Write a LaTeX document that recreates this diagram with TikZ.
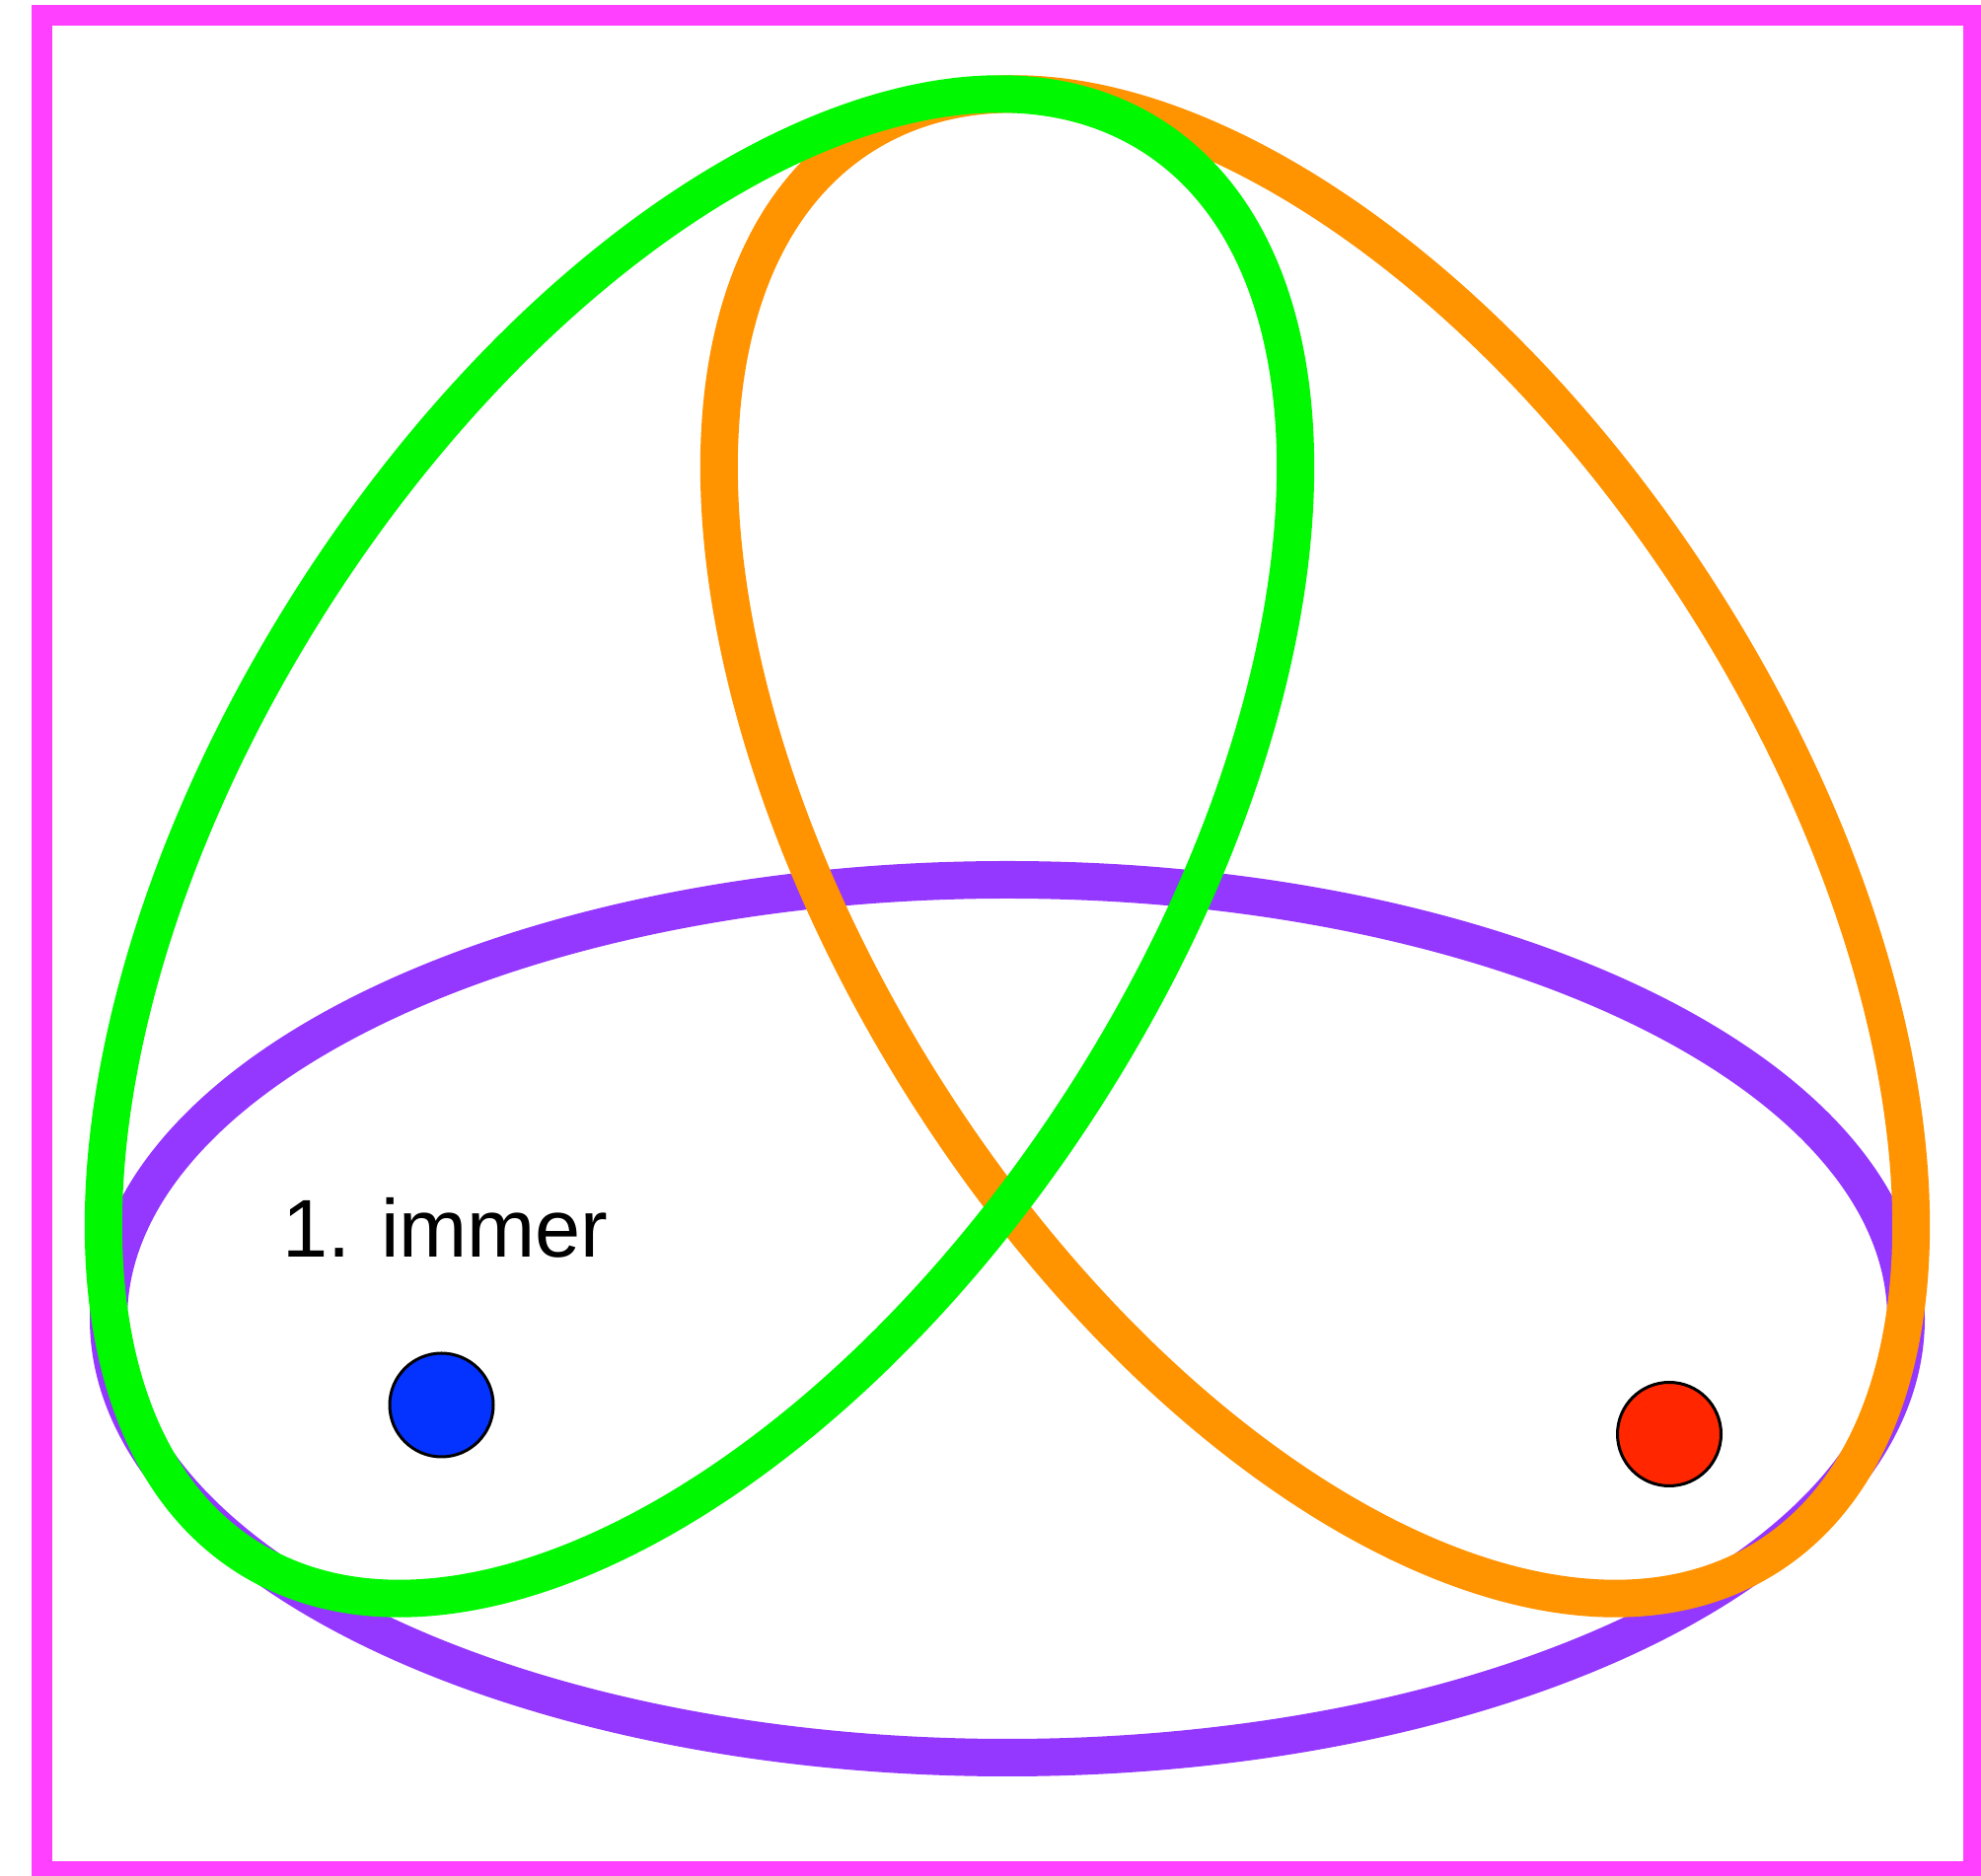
\documentclass[tikz,border=0pt]{standalone}
\usepackage{fontspec}
\setmainfont{Liberation Sans}
\definecolor{frameMagenta}{HTML}{FF40FF}
\definecolor{grape}{HTML}{9437FF}
\definecolor{tangerine}{HTML}{FF9300}
\definecolor{spring}{HTML}{00F900}
\definecolor{blueberry}{HTML}{0433FF}
\definecolor{maraschino}{HTML}{FF2600}
\tikzset{
  frameline/.style={draw=frameMagenta, line width=21pt},
  setline/.style={line width=38pt},
  dotnode/.style={circle, draw=black, line width=3pt, minimum size=105pt, inner sep=0pt},
  labeltext/.style={anchor=base west, inner sep=0pt, font=\fontsize{83}{100}\selectfont}
}
\begin{document}
\begin{tikzpicture}[x=1pt,y=1pt]
\useasboundingbox (0,0) rectangle (2008,1902);
\fill[white] (0,0) rectangle (2008,1902);
% frame
\draw[frameline] (42,1886) rectangle (2000,4);
% purple ellipse
\draw[setline, draw=grape] (1021,565) ellipse [x radius=911, y radius=445];
% orange ellipse
\draw[setline, draw=tangerine, rotate around={-57.5:(1333,1044)}] (1333,1044) ellipse [x radius=854, y radius=466];
% green ellipse
\draw[setline, draw=spring, rotate around={57.5:(709,1044)}] (709,1044) ellipse [x radius=854, y radius=466];
% label
\node[labeltext] (lbl) at (286,627) {1. immer};
% dots
\node[dotnode, fill=blueberry] (bluedot) at (447.5,477.5) {};
\node[dotnode, fill=maraschino] (reddot) at (1692,448) {};
\end{tikzpicture}
\end{document}
